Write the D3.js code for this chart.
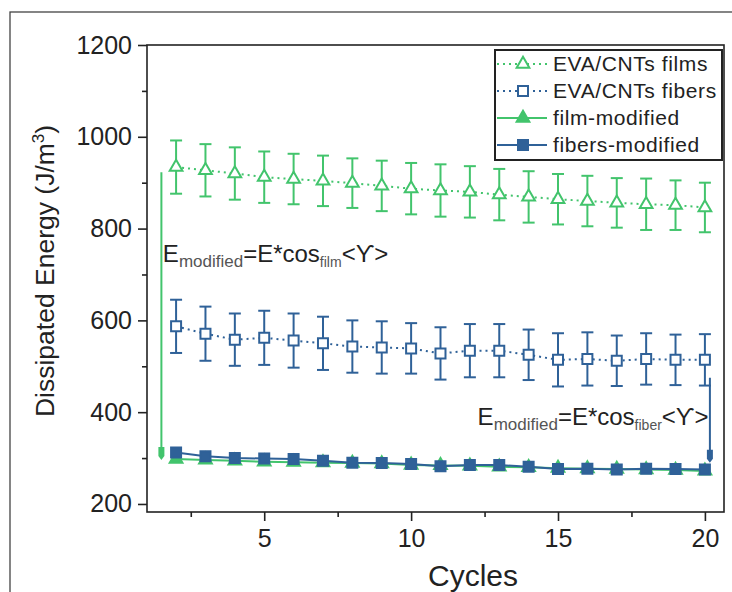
<!DOCTYPE html>
<html>
<head>
<meta charset="utf-8">
<script src="https://cdn.jsdelivr.net/npm/d3@7"></script>
<style>
  body { margin: 0; background: #fff; }
  text { font-family: "Liberation Sans", Arial, sans-serif; }
</style>
</head>
<body>
<svg id="chart" width="732" height="592"></svg>
<script>
// Data
var cycles = [2,3,4,5,6,7,8,9,10,11,12,13,14,15,16,17,18,19,20];
var filmValues  = [934,927,920,912,908,904,899,893,887,883,880,874,869,864,860,856,853,851,846];
var filmErrors  = [58,57,57,56,55,55,54,55,56,57,56,56,56,55,55,54,56,54,54];
var fiberValues = [587,571,558,562,556,550,543,541,539,528,534,534,525,514,516,512,516,514,514];
var fiberErrors = [58,59,57,59,59,58,57,57,55,57,58,58,55,58,58,55,56,55,56];
var filmModified  = [298,296,294,292,291,290,289,288,285,284,283,281,280,278,277,276,275,274,272];
var fiberModified = [312,304,300,299,298,294,290,289,287,282,285,285,281,276,277,275,277,276,275];
var xTicks = [5, 10, 15, 20];
var yTicks = [200, 400, 600, 800, 1000, 1200];
var legendLabels = ['EVA/CNTs films', 'EVA/CNTs fibers', 'film-modified', 'fibers-modified'];

var green = '#42c46c',
    blue = '#2f6198',
    ink = '#222';

var svg = d3.select('#chart');
var margin = {left: 147, top: 45, right: 8, bottom: 80};
var width = 732, height = 592;

var x = d3.scaleLinear().domain([1.01, 20.65]).range([margin.left, width - margin.right]);
var y = d3.scaleLinear().domain([182.5, 1200]).range([height - margin.bottom, margin.top]);

// outer frame of the figure
svg.append('rect')
    .attr('x', 10).attr('y', 12)
    .attr('width', 740).attr('height', 600)
    .attr('fill', 'none').attr('stroke', '#444').attr('stroke-width', 1.3);

// plot box
svg.append('rect')
    .attr('x', x.range()[0]).attr('y', y.range()[1])
    .attr('width', x.range()[1] - x.range()[0])
    .attr('height', y.range()[0] - y.range()[1])
    .attr('fill', 'none').attr('stroke', ink).attr('stroke-width', 1.6);

// axes
var xAxis = d3.axisBottom(x).tickValues(xTicks).tickSize(9).tickPadding(8).tickFormat(d3.format('d'));
var xMinor = d3.axisBottom(x).tickValues([2.5, 7.5, 12.5, 17.5]).tickSize(5).tickFormat('');
var yAxis = d3.axisLeft(y).tickValues(yTicks).tickSize(9).tickPadding(6).tickFormat(d3.format('d'));
var yMinor = d3.axisLeft(y).tickValues([300, 500, 700, 900, 1100]).tickSize(5).tickFormat('');

function styleAxis(g) {
    g.select('.domain').remove();
    g.selectAll('line').attr('stroke', ink).attr('stroke-width', 1.6);
    g.selectAll('text').attr('fill', ink).style('font-size', '25px');
}

svg.append('g').attr('transform', 'translate(0,' + y.range()[0] + ')').call(xAxis).call(styleAxis);
svg.append('g').attr('transform', 'translate(0,' + y.range()[0] + ')').call(xMinor).call(styleAxis);
svg.append('g').attr('transform', 'translate(' + x.range()[0] + ',0)').call(yAxis).call(styleAxis);
svg.append('g').attr('transform', 'translate(' + x.range()[0] + ',0)').call(yMinor).call(styleAxis);

// axis titles
svg.append('text')
    .attr('x', 473).attr('y', 586)
    .attr('text-anchor', 'middle').attr('fill', ink)
    .style('font-size', '30px').text('Cycles');

var yt = svg.append('text')
    .attr('transform', 'translate(54,271) rotate(-90)')
    .attr('text-anchor', 'middle').attr('fill', ink)
    .style('font-size', '26.5px');
yt.append('tspan').text('Dissipated Energy (J/m');
yt.append('tspan').attr('dy', -10).style('font-size', '17px').text('3');
yt.append('tspan').attr('dy', 10).text(')');

// series helpers
var rows = function(vals, errs) {
    return cycles.map(function(c, i) {
        return {x: c, y: vals[i], e: errs ? errs[i] : 0};
    });
};
var line = d3.line().x(function(d) { return x(d.x); }).y(function(d) { return y(d.y); });

var tri = d3.symbol().type(d3.symbolTriangle).size(70);
var sq = d3.symbol().type(d3.symbolSquare).size(100);

function errorBars(data, color) {
    var g = svg.append('g').attr('stroke', color).attr('stroke-width', 2);
    var eb = g.selectAll('g').data(data).enter().append('g');
    eb.append('line')
        .attr('x1', function(d) { return x(d.x); }).attr('x2', function(d) { return x(d.x); })
        .attr('y1', function(d) { return y(d.y + d.e); }).attr('y2', function(d) { return y(d.y - d.e); });
    eb.append('line')
        .attr('x1', function(d) { return x(d.x) - 6; }).attr('x2', function(d) { return x(d.x) + 6; })
        .attr('y1', function(d) { return y(d.y + d.e); }).attr('y2', function(d) { return y(d.y + d.e); });
    eb.append('line')
        .attr('x1', function(d) { return x(d.x) - 6; }).attr('x2', function(d) { return x(d.x) + 6; })
        .attr('y1', function(d) { return y(d.y - d.e); }).attr('y2', function(d) { return y(d.y - d.e); });
}

function series(data, color, dashed, symbol, filled) {
    svg.append('path').datum(data)
        .attr('d', line).attr('fill', 'none')
        .attr('stroke', color).attr('stroke-width', 2)
        .attr('stroke-dasharray', dashed ? '2,4' : null);
    svg.append('g').selectAll('path').data(data).enter().append('path')
        .attr('d', symbol)
        .attr('transform', function(d) { return 'translate(' + x(d.x) + ',' + y(d.y) + ')'; })
        .attr('fill', filled ? color : '#fff')
        .attr('stroke', color).attr('stroke-width', 2);
}

var films = rows(filmValues, filmErrors);
var fibers = rows(fiberValues, fiberErrors);

errorBars(films, green);
series(films, green, true, tri, false);
errorBars(fibers, blue);
series(fibers, blue, true, sq, false);
series(rows(filmModified), green, false, tri, true);
series(rows(fiberModified), blue, false, sq, true);

// vertical arrows from the raw curves down to the modified ones
function arrow(cx, from, to, color) {
    var ax = x(cx), y0 = y(from), y1 = y(to);
    svg.append('line')
        .attr('x1', ax).attr('x2', ax).attr('y1', y0).attr('y2', y1 - 6)
        .attr('stroke', color).attr('stroke-width', 2);
    svg.append('path')
        .attr('d', 'M' + (ax - 3) + ',' + (y1 - 13) + 'L' + (ax + 3) + ',' + (y1 - 13) +
            'L' + (ax + 3) + ',' + (y1 - 4) + 'L' + ax + ',' + y1 + 'L' + (ax - 3) + ',' + (y1 - 4) + 'Z')
        .attr('fill', color);
}
arrow(1.5, 923, 296, green);
arrow(20.17, 475, 290, blue);

// annotations
function formula(px, py, sub, anchor) {
    var t = svg.append('text').attr('x', px).attr('y', py)
        .attr('text-anchor', anchor).attr('fill', ink).style('font-size', '24px');
    t.append('tspan').text('E');
    t.append('tspan').attr('dy', 5).attr('fill', '#555').style('font-size', '17px').text('modified');
    t.append('tspan').attr('dy', -5).text('=E*cos');
    t.append('tspan').attr('dy', 5).attr('fill', '#555').style('font-size', '14px').text(sub);
    t.append('tspan').attr('dy', -5).text('<\u03D2>');
}
formula(x(1.55), y(727), 'film', 'start');
formula(x(20.12), y(372), 'fiber', 'end');

// legend
var lg = svg.append('g');
lg.append('rect').attr('x', 495).attr('y', 50).attr('width', 227).attr('height', 110)
    .attr('fill', '#fff').attr('stroke', ink).attr('stroke-width', 2);
var legendRows = [
    {label: legendLabels[0], color: green, dashed: true, symbol: tri, filled: false},
    {label: legendLabels[1], color: blue, dashed: true, symbol: sq, filled: false},
    {label: legendLabels[2], color: green, dashed: false, symbol: tri, filled: true},
    {label: legendLabels[3], color: blue, dashed: false, symbol: sq, filled: true}
];
var li = lg.selectAll('g.item').data(legendRows).enter().append('g')
    .attr('class', 'item')
    .attr('transform', function(d, i) { return 'translate(0,' + (64 + i * 27) + ')'; });
li.append('line').attr('x1', 497).attr('x2', 547)
    .attr('stroke', function(d) { return d.color; }).attr('stroke-width', 2)
    .attr('stroke-dasharray', function(d) { return d.dashed ? '2,4' : null; });
li.append('path').attr('d', function(d) { return d.symbol(); })
    .attr('transform', 'translate(523,0)')
    .attr('fill', function(d) { return d.filled ? d.color : '#fff'; })
    .attr('stroke', function(d) { return d.color; }).attr('stroke-width', 2);
li.append('text').attr('x', 553).attr('y', 7).attr('fill', ink)
    .style('font-size', '21px').style('letter-spacing', '0.6px')
    .text(function(d) { return d.label; });
</script>
</body>
</html>
